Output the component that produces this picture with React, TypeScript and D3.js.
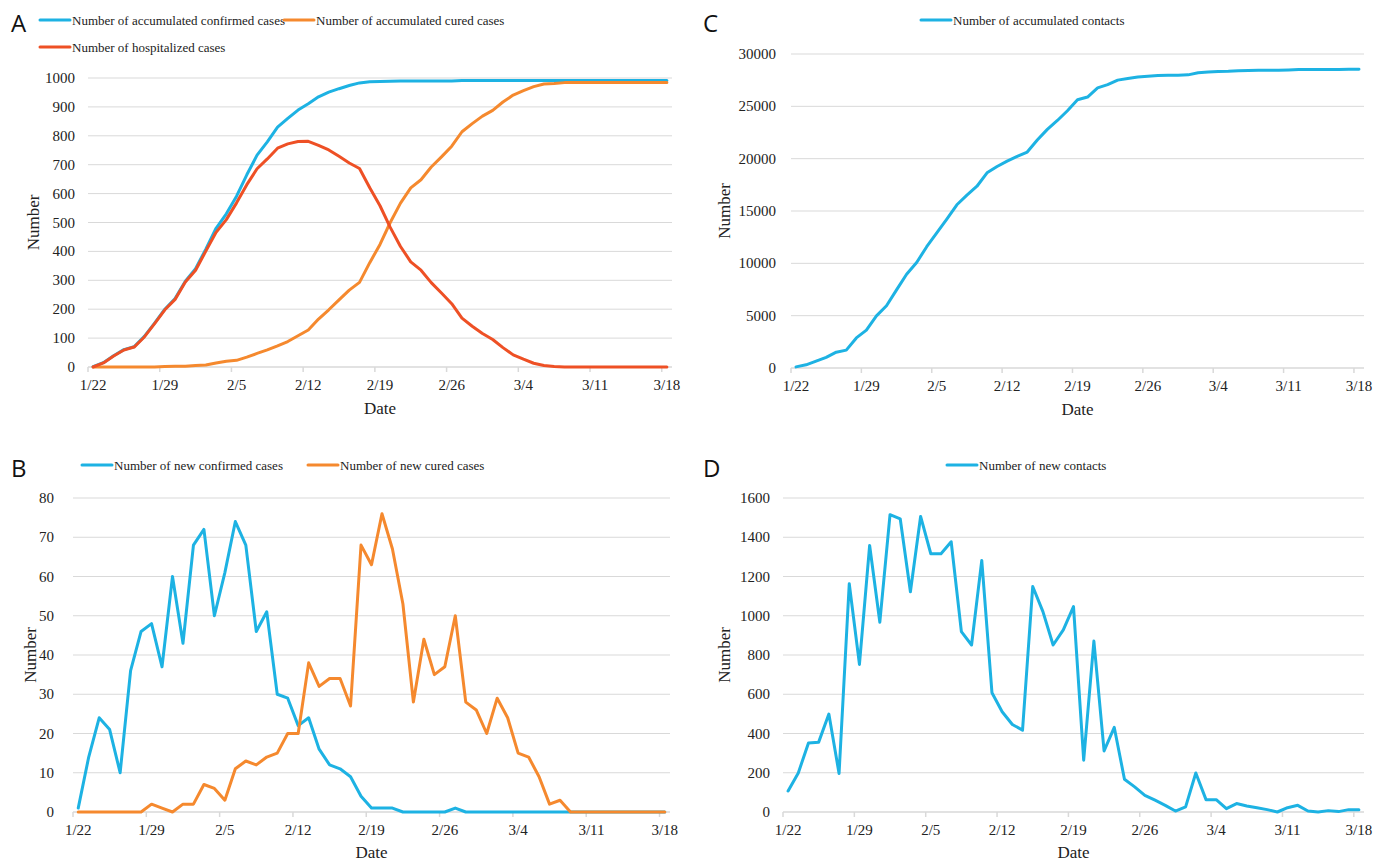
import React, { useEffect, useRef } from 'react'
import * as d3 from 'd3'

// categories: one per day, 1/22 .. 3/18 (2020)
const dates = d3.timeDay
  .range(new Date(2020, 0, 22), new Date(2020, 2, 19))
  .map(d3.timeFormat('%-m/%-d'))
const tickLabels = ['1/22', '1/29', '2/5', '2/12', '2/19', '2/26', '3/4', '3/11', '3/18']

// panel A
const accConfirmed = [1, 15, 39, 60, 70, 106, 152, 200, 237, 297, 340, 408, 480, 530, 591, 665, 733, 779, 830, 860,
  889, 911, 935, 951, 963, 974, 983, 987, 988, 989, 990, 990, 990, 990, 990, 990, 991, 991, 991, 991,
  991, 991, 991, 991, 991, 991, 991, 991, 991, 991, 991, 991, 991, 991, 991, 991, 991]
const accCured = [0, 0, 0, 0, 0, 0, 0, 2, 3, 3, 5, 7, 14, 20, 23, 34, 47, 59, 73, 88,
  108, 128, 166, 198, 232, 266, 293, 361, 424, 500, 567, 620, 648, 692, 727, 764, 814, 842, 868, 888,
  917, 941, 956, 970, 979, 981, 984, 984, 984, 984, 984, 984, 984, 984, 984, 984, 984]
const hospitalized = [0, 14, 38, 59, 69, 104, 150, 198, 234, 294, 335, 401, 466, 510, 568, 631, 686, 720, 757, 772,
  780, 781, 767, 751, 729, 706, 687, 620, 558, 483, 417, 364, 335, 292, 256, 219, 169, 141, 116, 95,
  67, 42, 27, 13, 5, 2, 0, 0, 0, 0, 0, 0, 0, 0, 0, 0, 0]

// panel B
const newConfirmed = [1, 14, 24, 21, 10, 36, 46, 48, 37, 60, 43, 68, 72, 50, 61, 74, 68, 46, 51, 30,
  29, 22, 24, 16, 12, 11, 9, 4, 1, 1, 1, 0, 0, 0, 0, 0, 1, 0, 0, 0,
  0, 0, 0, 0, 0, 0, 0, 0, 0, 0, 0, 0, 0, 0, 0, 0, 0]
const newCured = [0, 0, 0, 0, 0, 0, 0, 2, 1, 0, 2, 2, 7, 6, 3, 11, 13, 12, 14, 15,
  20, 20, 38, 32, 34, 34, 27, 68, 63, 76, 67, 53, 28, 44, 35, 37, 50, 28, 26, 20,
  29, 24, 15, 14, 9, 2, 3, 0, 0, 0, 0, 0, 0, 0, 0, 0, 0]

// panel C
const accContacts = [107, 306, 658, 1014, 1513, 1709, 2872, 3624, 4982, 5949, 7464, 8958, 10080, 11586, 12902, 14218, 15595, 16514, 17365, 18647,
  19255, 19766, 20212, 20629, 21778, 22799, 23650, 24578, 25625, 25889, 26760, 27071, 27502, 27669, 27797, 27882, 27942, 27976, 27981, 28007,
  28206, 28269, 28332, 28349, 28392, 28423, 28445, 28457, 28457, 28479, 28513, 28518, 28518, 28525, 28527, 28539, 28551]

// panel D
const newContacts = [107, 199, 352, 356, 499, 196, 1163, 752, 1358, 967, 1515, 1494, 1122, 1506, 1316, 1316, 1377, 919, 851, 1282,
  608, 511, 446, 417, 1149, 1021, 851, 928, 1047, 264, 871, 311, 431, 167, 128, 85, 60, 34, 5, 26,
  199, 63, 63, 17, 43, 31, 22, 12, 0, 22, 34, 5, 0, 7, 2, 12, 12]

const BLUE = '#1db2e3'
const ORANGE = '#f5892e'
const RED = '#ee5025'
const SERIF = '"Liberation Serif", "Times New Roman", serif'

function drawPanel (svg, p) {
  const g = svg.append('g')
  const x = d3.scaleBand().domain(dates).range([p.left, p.right])
  const y = d3.scaleLinear().domain([0, p.max]).range([p.bottom, p.top])
  const cx = d => x(d) + x.bandwidth() / 2

  // gridlines
  g.selectAll('.grid')
    .data(y.ticks(p.tickCount).filter(v => v > 0))
    .enter()
    .append('line')
    .attr('x1', p.left).attr('x2', p.right)
    .attr('y1', d => y(d)).attr('y2', d => y(d))
    .attr('stroke', '#d9d9d9').attr('stroke-width', 1)

  // y labels
  g.selectAll('.ylab')
    .data(y.ticks(p.tickCount))
    .enter()
    .append('text')
    .attr('x', p.left - p.labelGap)
    .attr('y', d => y(d) + 5)
    .attr('text-anchor', 'end')
    .attr('font-family', SERIF).attr('font-size', 15).attr('fill', '#222')
    .text(d => d)

  // x axis
  g.append('line')
    .attr('x1', p.left).attr('x2', p.right)
    .attr('y1', p.bottom).attr('y2', p.bottom)
    .attr('stroke', '#d9d9d9').attr('stroke-width', 1.5)
  const tickDates = dates.filter(d => tickLabels.includes(d))
  g.selectAll('.xtick')
    .data(tickDates)
    .enter()
    .append('line')
    .attr('x1', d => x(d)).attr('x2', d => x(d))
    .attr('y1', p.bottom).attr('y2', p.bottom + 5)
    .attr('stroke', '#d9d9d9').attr('stroke-width', 1.5)
  g.selectAll('.xlab')
    .data(tickDates)
    .enter()
    .append('text')
    .attr('x', d => cx(d))
    .attr('y', p.bottom + 23)
    .attr('text-anchor', 'middle')
    .attr('font-family', SERIF).attr('font-size', 15).attr('fill', '#222')
    .text(d => d)

  // axis titles
  g.append('text')
    .attr('x', (p.left + p.right) / 2)
    .attr('y', Math.min(p.bottom + 47, 858))
    .attr('text-anchor', 'middle')
    .attr('font-family', SERIF).attr('font-size', 17).attr('fill', '#222')
    .text('Date')
  g.append('text')
    .attr('transform', 'translate(' + p.yTitleX + ',' + (p.top + p.bottom) / 2 + ') rotate(-90)')
    .attr('text-anchor', 'middle')
    .attr('font-family', SERIF).attr('font-size', 17).attr('fill', '#222')
    .text('Number')

  // series
  const line = d3.line().x((v, i) => cx(dates[i])).y(v => y(v))
  p.series.forEach(s => {
    g.append('path')
      .attr('d', line(s.values))
      .attr('fill', 'none')
      .attr('stroke', s.color)
      .attr('stroke-width', 3)
      .attr('stroke-linejoin', 'round')
      .attr('stroke-linecap', 'round')
  })

  // legend
  p.series.forEach(s => {
    g.append('line')
      .attr('x1', s.lx).attr('x2', s.lx + 30)
      .attr('y1', s.ly).attr('y2', s.ly)
      .attr('stroke', s.color).attr('stroke-width', 3).attr('stroke-linecap', 'round')
    g.append('text')
      .attr('x', s.lx + 32).attr('y', s.ly + 5)
      .attr('font-family', SERIF).attr('font-size', 13).attr('fill', '#222')
      .text(s.name)
  })

  // panel letter
  g.append('text')
    .attr('x', p.letterX).attr('y', p.letterY)
    .attr('font-family', '"Open Sans", "Noto Sans", sans-serif').attr('font-size', 24).attr('fill', '#111')
    .text(p.letter)
}

function App() {
  const ref = useRef(null)

  useEffect(() => {
    const svg = d3.select(ref.current)
    svg.selectAll('*').remove()

    drawPanel(svg, {
      letter: 'A', letterX: 11, letterY: 32,
      left: 88, right: 672, top: 78, bottom: 367, max: 1000, tickCount: 10, labelGap: 13, yTitleX: 39,
      series: [
        { name: 'Number of accumulated confirmed cases', values: accConfirmed, color: BLUE, lx: 40, ly: 20 },
        { name: 'Number of accumulated cured cases', values: accCured, color: ORANGE, lx: 284, ly: 20 },
        { name: 'Number of hospitalized cases', values: hospitalized, color: RED, lx: 40, ly: 47 }
      ]
    })
    drawPanel(svg, {
      letter: 'B', letterX: 11, letterY: 477,
      left: 73, right: 670, top: 498, bottom: 812, max: 80, tickCount: 8, labelGap: 19, yTitleX: 36,
      series: [
        { name: 'Number of new confirmed cases', values: newConfirmed, color: BLUE, lx: 82, ly: 465 },
        { name: 'Number of new cured cases', values: newCured, color: ORANGE, lx: 308, ly: 465 }
      ]
    })
    drawPanel(svg, {
      letter: 'C', letterX: 703, letterY: 32,
      left: 791, right: 1364, top: 54, bottom: 368, max: 30000, tickCount: 6, labelGap: 15, yTitleX: 730,
      series: [
        { name: 'Number of accumulated contacts', values: accContacts, color: BLUE, lx: 921, ly: 20 }
      ]
    })
    drawPanel(svg, {
      letter: 'D', letterX: 703, letterY: 477,
      left: 783, right: 1364, top: 498, bottom: 812, max: 1600, tickCount: 8, labelGap: 13, yTitleX: 730,
      series: [
        { name: 'Number of new contacts', values: newContacts, color: BLUE, lx: 947, ly: 465 }
      ]
    })
  }, [])

  return (
    <svg ref={ref} width={1386} height={861}
      style={{ position: 'absolute', left: 0, top: 0, background: '#fff' }} />
  )
}

export default App
